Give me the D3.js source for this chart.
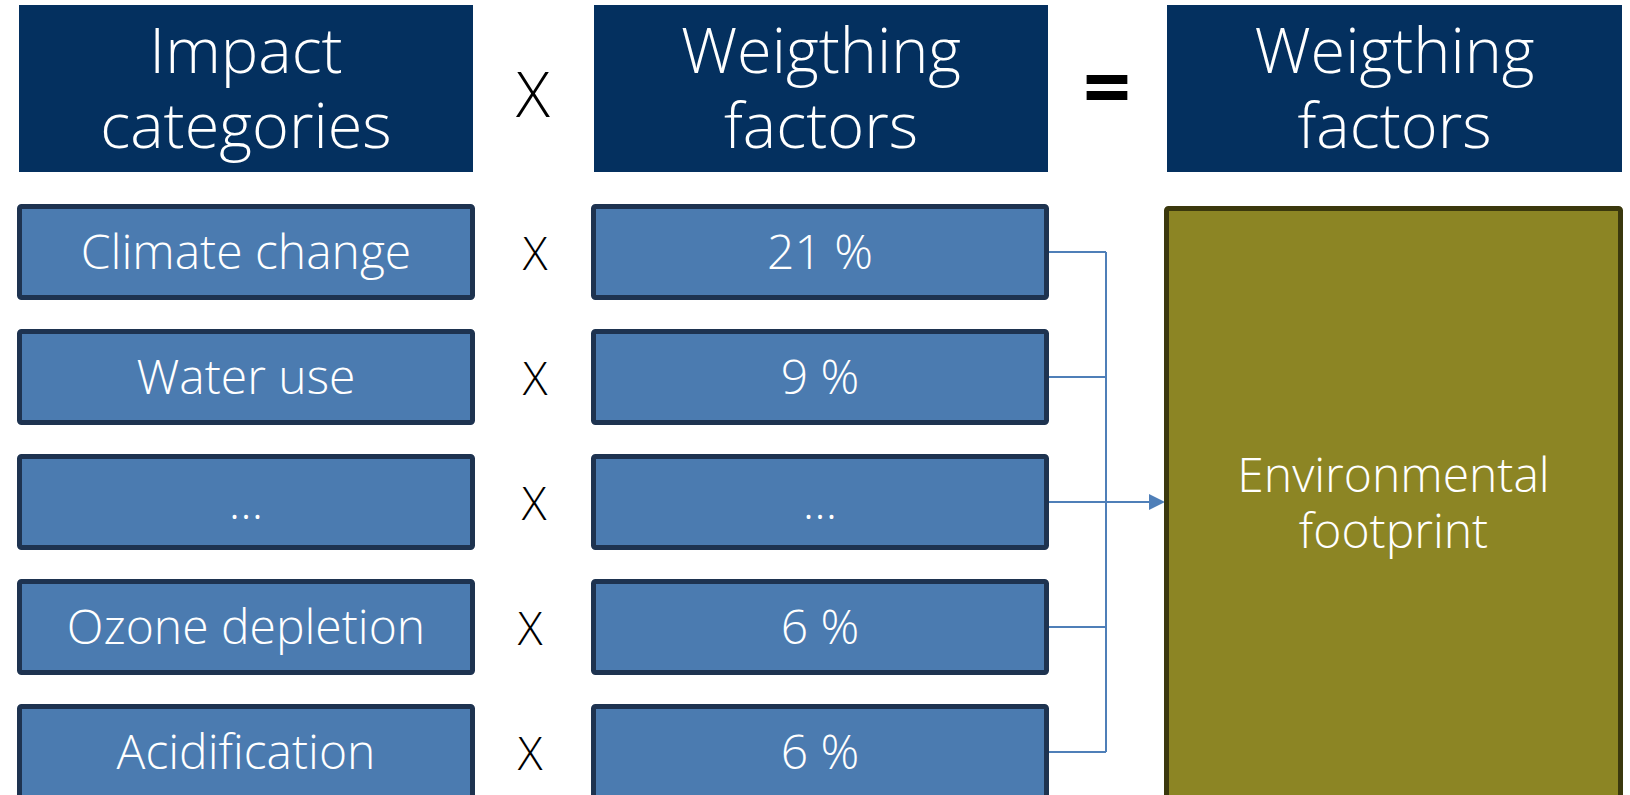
<!DOCTYPE html>
<html>
<head>
<meta charset="utf-8">
<script src="https://cdn.jsdelivr.net/npm/d3@7"></script>
<style>
  html, body { margin: 0; padding: 0; background: #ffffff; overflow: hidden; }
  svg { display: block; font-family: "Open Sans", "Noto Sans", sans-serif; }
</style>
</head>
<body>
<svg id="chart" width="1630" height="795"></svg>
<script>
// Content of the weighting scheme
const headers = [["Impact", "categories"], ["Weigthing", "factors"], ["Weigthing", "factors"]];
const categories = ["Climate change", "Water use", "\u2026", "Ozone depletion", "Acidification"];
const weights = [21, 9, null, 6, 6];
const resultLabel = ["Environmental", "footprint"];

const formatWeight = d => d == null ? "\u2026" : d + " %";

// Palette
const navy = "#04305f";
const boxFill = "#4b7bb0";
const boxStroke = "#1e3350";
const olive = "#8c8524";
const oliveStroke = "#3b380d";
const linkColor = "#4f7fb8";

const svg = d3.select("#chart");

// Column layout (outer edges of each column)
const col = {
  left:   { x0: 17,   x1: 475 },
  mid:    { x0: 591,  x1: 1049 },
  right:  { x0: 1164, x1: 1623 }
};
const headerCols = [
  { x0: 19, x1: 473 },
  { x0: 594, x1: 1048 },
  { x0: 1167, x1: 1622 }
];
const sw = 5; // box outline width

// Row positions via a band scale
const y = d3.scaleBand()
  .domain(d3.range(categories.length))
  .range([204, 800])
  .paddingInner(0.232)
  .paddingOuter(0);

// ---- header row ----
const hdr = svg.append("g").attr("class", "headers");
hdr.selectAll("rect")
  .data(headers)
  .join("rect")
  .attr("x", (d, i) => headerCols[i].x0)
  .attr("y", 5)
  .attr("width", (d, i) => headerCols[i].x1 - headerCols[i].x0)
  .attr("height", 167)
  .attr("fill", navy);

hdr.selectAll("text")
  .data(headers)
  .join("text")
  .attr("x", (d, i) => (headerCols[i].x0 + headerCols[i].x1) / 2)
  .attr("text-anchor", "middle")
  .attr("fill", "#ffffff")
  .attr("font-size", 63)
  .attr("font-weight", 300)
  .selectAll("tspan")
  .data(d => d)
  .join("tspan")
  .attr("x", function () { return d3.select(this.parentNode).attr("x"); })
  .attr("y", (d, i) => 73 + i * 75)
  .text(d => d);

// operators between headers
svg.append("text")
  .attr("x", 533).attr("y", 117)
  .attr("text-anchor", "middle")
  .attr("font-size", 63).attr("font-weight", 300)
  .attr("fill", "#000")
  .text("X");
svg.append("text")
  .attr("x", 1107).attr("y", 117)
  .attr("text-anchor", "middle")
  .attr("font-size", 84).attr("font-weight", 700)
  .attr("fill", "#000")
  .text("=");

// ---- connectors from weight boxes into the result ----
const busX = 1106;
const cy = i => y(i) + y.bandwidth() / 2;
const links = svg.append("g")
  .attr("fill", "none")
  .attr("stroke", linkColor)
  .attr("stroke-width", 2);

links.selectAll("line.stub")
  .data(weights)
  .join("line")
  .attr("class", "stub")
  .attr("x1", col.mid.x1 - 3)
  .attr("x2", busX)
  .attr("y1", (d, i) => cy(i))
  .attr("y2", (d, i) => cy(i));

links.append("line")
  .attr("x1", busX).attr("x2", busX)
  .attr("y1", cy(0)).attr("y2", cy(weights.length - 1));

const midRow = Math.floor(weights.length / 2);
links.append("line")
  .attr("x1", busX).attr("x2", col.right.x0 - 14)
  .attr("y1", cy(midRow)).attr("y2", cy(midRow));

svg.append("path")
  .attr("d", d3.line()([
    [col.right.x0 - 15, cy(midRow) - 8],
    [col.right.x0 + 1, cy(midRow)],
    [col.right.x0 - 15, cy(midRow) + 8]
  ]) + "Z")
  .attr("fill", linkColor);

// ---- category and weight boxes ----
function boxColumn(cls, c, labels) {
  const g = svg.append("g").attr("class", cls);
  g.selectAll("rect")
    .data(labels)
    .join("rect")
    .attr("x", c.x0 + sw / 2)
    .attr("y", (d, i) => y(i) + sw / 2)
    .attr("width", c.x1 - c.x0 - sw)
    .attr("height", y.bandwidth() - sw)
    .attr("rx", 2)
    .attr("fill", boxFill)
    .attr("stroke", boxStroke)
    .attr("stroke-width", sw);
  g.selectAll("text")
    .data(labels)
    .join("text")
    .attr("x", (c.x0 + c.x1) / 2)
    .attr("y", (d, i) => cy(i) + 17)
    .attr("text-anchor", "middle")
    .attr("fill", "#ffffff")
    .attr("font-size", 48)
    .attr("font-weight", 300)
    .text(d => d);
}
boxColumn("categories", col.left, categories);
boxColumn("weights", col.mid, weights.map(formatWeight));

// multiplication signs per row
const rowOpX = [535, 535, 534, 530, 530];
svg.append("g").selectAll("text")
  .data(categories)
  .join("text")
  .attr("x", (d, i) => rowOpX[i])
  .attr("y", (d, i) => cy(i) + 18)
  .attr("text-anchor", "middle")
  .attr("font-size", 46)
  .attr("font-weight", 300)
  .attr("fill", "#000")
  .text("X");

// ---- result box ----
svg.append("rect")
  .attr("x", col.right.x0 + sw / 2)
  .attr("y", 206 + sw / 2)
  .attr("width", col.right.x1 - col.right.x0 - sw)
  .attr("height", 700)
  .attr("rx", 2)
  .attr("fill", olive)
  .attr("stroke", oliveStroke)
  .attr("stroke-width", sw);

svg.append("text")
  .attr("text-anchor", "middle")
  .attr("fill", "#ffffff")
  .attr("font-size", 48)
  .attr("font-weight", 300)
  .selectAll("tspan")
  .data(resultLabel)
  .join("tspan")
  .attr("x", (col.right.x0 + col.right.x1) / 2)
  .attr("y", (d, i) => 492 + i * 56)
  .text(d => d);
</script>
</body>
</html>
